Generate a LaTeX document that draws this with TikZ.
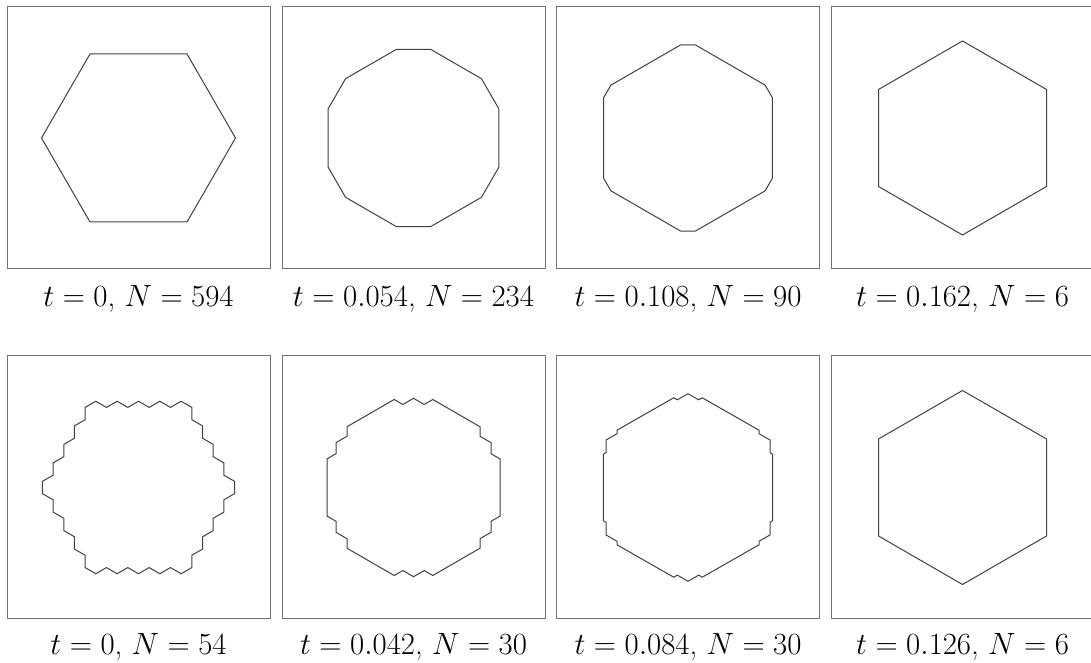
\documentclass[tikz,border=0pt]{standalone}
\tikzset{
  frame/.style={draw=black!55, line width=1pt},
  curve/.style={draw=black!75, line width=1pt, line join=miter},
  lab/.style={anchor=base, inner sep=0pt, font=\fontsize{24.88}{30}\selectfont, scale=1.238, transform shape},
}
\begin{document}
\begin{tikzpicture}[x=1pt,y=1pt]
\useasboundingbox (0,0) rectangle (1091,663);
% frames
\foreach \cx in {138.5,413.5,688,962.5} {
  \draw[frame] (\cx-131.5,394) rectangle (\cx+131.5,656);
  \draw[frame] (\cx-131.5,44) rectangle (\cx+131.5,307);
}
% top row
\begin{scope}[shift={(138.5,525)}]
  \draw[curve] (0:97) \foreach \k in {1,...,5}{ -- (60*\k:97)} -- cycle;
\end{scope}
\begin{scope}[shift={(413.5,525)}]
  \draw[curve] (18.9:90.2) \foreach \k in {0,...,5}{ -- ({30+60*\k-11.1}:90.2) -- ({30+60*\k+11.1}:90.2)} -- cycle;
\end{scope}
\begin{scope}[shift={(688,525)}]
  \draw[curve] (25.6:93.5) \foreach \k in {0,...,5}{ -- ({30+60*\k-4.4}:93.5) -- ({30+60*\k+4.4}:93.5)} -- cycle;
\end{scope}
\begin{scope}[shift={(962.5,525)}]
  \draw[curve] (30:97) \foreach \k in {1,...,5}{ -- ({30+60*\k}:97)} -- cycle;
\end{scope}
% bottom row
\begin{scope}[shift={(138.5,175.5)}, x=10.67pt, y=6.16pt]
  \draw[curve] (9,-1) -- (9,1) -- (8,2) -- (8,4) -- (7,5) -- (7,7) -- (6,8) -- (6,10) -- (5,11) -- (5,13)
    -- (4,14) -- (3,13) -- (2,14) -- (1,13) -- (0,14) -- (-1,13) -- (-2,14) -- (-3,13) -- (-4,14) -- (-5,13)
    -- (-5,11) -- (-6,10) -- (-6,8) -- (-7,7) -- (-7,5) -- (-8,4) -- (-8,2) -- (-9,1)
    -- (-9,-1) -- (-8,-2) -- (-8,-4) -- (-7,-5) -- (-7,-7) -- (-6,-8) -- (-6,-10) -- (-5,-11) -- (-5,-13)
    -- (-4,-14) -- (-3,-13) -- (-2,-14) -- (-1,-13) -- (0,-14) -- (1,-13) -- (2,-14) -- (3,-13) -- (4,-14) -- (5,-13)
    -- (5,-11) -- (6,-10) -- (6,-8) -- (7,-7) -- (7,-5) -- (8,-4) -- (8,-2) -- cycle;
\end{scope}
\begin{scope}[shift={(413.5,175.5)}]
  \draw[curve] (0,89.2) -- (10.67,83.0) -- (19.3,88.0) -- (66.5,60.75) -- (66.5,51.2) -- (77.5,44.85) -- (77.5,33.8) -- (86.5,28.6)
    -- (86.5,-28.6) -- (77.5,-33.8) -- (77.5,-44.85) -- (66.5,-51.2) -- (66.5,-60.75) -- (19.3,-88.0) -- (10.67,-83.0) -- (0,-89.2)
    -- (-10.67,-83.0) -- (-19.3,-88.0) -- (-66.5,-60.75) -- (-66.5,-51.2) -- (-77.5,-44.85) -- (-77.5,-33.8) -- (-86.5,-28.6)
    -- (-86.5,28.6) -- (-77.5,33.8) -- (-77.5,44.85) -- (-66.5,51.2) -- (-66.5,60.75) -- (-19.3,88.0) -- (-10.67,83.0) -- cycle;
\end{scope}
\begin{scope}[shift={(688,175.5)}]
  \draw[curve] (0,93.8) -- (10.67,87.64) -- (14.3,89.7) -- (71,57.3) -- (71,53.8) -- (82,47.45) -- (82,34.8) -- (84.7,33.2)
    -- (84.7,-33.2) -- (82,-34.8) -- (82,-47.45) -- (71,-53.8) -- (71,-57.3) -- (14.3,-89.7) -- (10.67,-87.64) -- (0,-93.8)
    -- (-10.67,-87.64) -- (-14.3,-89.7) -- (-71,-57.3) -- (-71,-53.8) -- (-82,-47.45) -- (-82,-34.8) -- (-84.7,-33.2)
    -- (-84.7,33.2) -- (-82,34.8) -- (-82,47.45) -- (-71,53.8) -- (-71,57.3) -- (-14.3,89.7) -- (-10.67,87.64) -- cycle;
\end{scope}
\begin{scope}[shift={(962.5,175.5)}]
  \draw[curve] (30:97) \foreach \k in {1,...,5}{ -- ({30+60*\k}:97)} -- cycle;
\end{scope}
% labels
\node[lab] (l1) at (138.5,356) {$t=0$, $N=594$};
\node[lab] (l2) at (413.5,356) {$t=0.054$, $N=234$};
\node[lab] (l3) at (688,356) {$t=0.108$, $N=90$};
\node[lab] (l4) at (962.5,356) {$t=0.162$, $N=6$};
\node[lab] (l5) at (138.5,8) {$t=0$, $N=54$};
\node[lab] (l6) at (413.5,8) {$t=0.042$, $N=30$};
\node[lab] (l7) at (688,8) {$t=0.084$, $N=30$};
\node[lab] (l8) at (962.5,8) {$t=0.126$, $N=6$};
\end{tikzpicture}
\end{document}
